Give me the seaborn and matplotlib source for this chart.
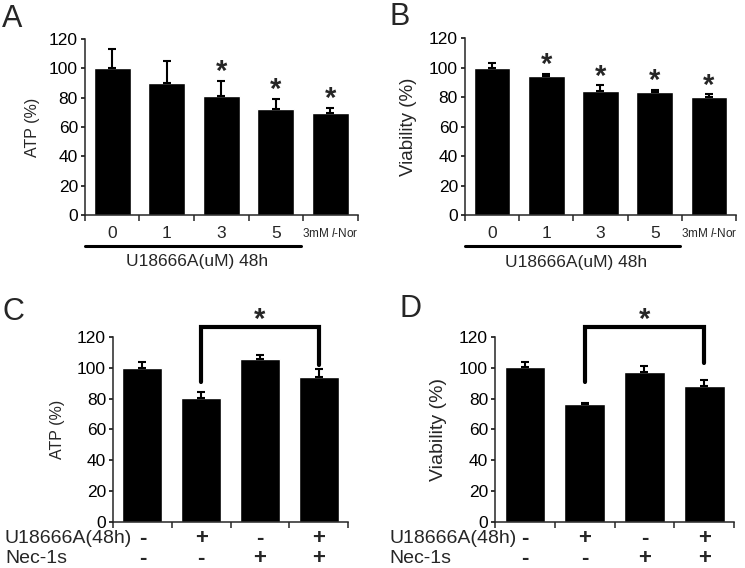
import numpy as np
import pandas as pd
import matplotlib
matplotlib.use("Agg")
import matplotlib.pyplot as plt
import seaborn as sns

# Panel A / B: U18666A dose series
ab_groups = ['0', '1', '3', '5', '3mM $\\mathit{l}$-Nor']
a_atp = [100, 90, 81, 72.5, 69.5]
a_err = [13, 15, 10.5, 6.5, 3.5]
a_sig = [False, False, True, True, True]
b_via = [100, 94.5, 84.5, 83.5, 80]
b_err = [3, 1.5, 3.5, 1.5, 2]
b_sig = [False, True, True, True, True]

# Panel C / D: U18666A +/- Nec-1s
cd_groups = ['ctrl', 'U18666A', 'Nec-1s', 'U18666A+Nec-1s']
cd_u186 = ['-', '+', '-', '+']
cd_nec = ['-', '-', '+', '+']
c_atp = [100, 80.5, 106, 94]
c_err = [4, 3.5, 2.5, 5.5]
d_via = [100.5, 76.5, 97.5, 88.5]
d_err = [3, 1, 3.5, 3.5]

sns.set_style("ticks")
plt.rcParams['font.family'] = ['Liberation Sans', 'DejaVu Sans']
plt.rcParams['mathtext.fontset'] = 'custom'
plt.rcParams['mathtext.rm'] = 'Liberation Sans'
plt.rcParams['mathtext.it'] = 'Liberation Sans:italic'

fig = plt.figure(figsize=(7.45, 5.68), dpi=100)


def bar_panel(rect, groups, vals, errs, ylabel, ylab_x, ylab_size):
    ax = fig.add_axes(rect)
    df = pd.DataFrame({'g': groups, 'v': vals})
    sns.barplot(data=df, x='g', y='v', color='black', saturation=1,
                width=0.68, errorbar=None, ax=ax)
    n = len(groups)
    ax.errorbar(range(n), vals, yerr=[np.zeros(n), errs], fmt='none',
                ecolor='black', elinewidth=1.5, capsize=3, capthick=1.5)
    ax.set_ylim(0, 120)
    ax.set_xlim(-0.5, n - 0.5)
    ax.set_yticks(range(0, 121, 20))
    ax.set_xticks(np.arange(-0.5, n, 1), minor=True)
    ax.tick_params(axis='y', labelsize=12.5, length=3, width=1.1, pad=2, colors='black')
    ax.tick_params(axis='x', which='major', length=0, labelsize=12.5, pad=13)
    ax.tick_params(axis='x', which='minor', length=4, width=1.1)
    ax.set_xlabel('')
    ax.set_ylabel(ylabel, fontsize=ylab_size)
    ax.yaxis.set_label_coords(ylab_x, 0.5)
    for s in ['left', 'bottom']:
        ax.spines[s].set_linewidth(1.1)
    sns.despine(ax=ax)
    return ax


def stars(ax, vals, errs, sig):
    for i, (v, e, s) in enumerate(zip(vals, errs, sig)):
        if s:
            ax.text(i, v + e + 6, '*', ha='center', va='center',
                    fontsize=21, fontweight='bold')


def dose_labels(ax):
    for t in ax.get_xticklabels():
        t.set_va('center')
    ax.get_xticklabels()[-1].set_fontsize(8.5)
    ax.plot([-0.5, 3.47], [-21, -21], color='black', lw=2.2, clip_on=False)
    ax.text(1.55, -32, 'U18666A(uM) 48h', ha='center', va='center', fontsize=12.5)


def bracket(ax, legs):
    ax.plot([1, 1, 3, 3], [legs[0], 126.5, 126.5, legs[1]], color='black',
            lw=3, clip_on=False, solid_joinstyle='miter')
    ax.text(2, 131, '*', ha='center', va='center', fontsize=21, fontweight='bold')


def treat_rows(ax, lab_x):
    ax.set_xticklabels([])
    tr = ax.get_xaxis_transform()
    rows = [(-0.088, 'U18666A(48h)', cd_u186), (-0.2, 'Nec-1s', cd_nec)]
    for y, name, signs in rows:
        ax.text(lab_x, y, name, transform=ax.transAxes,
                ha='left', va='center', fontsize=14)
        for i, s in enumerate(signs):
            ax.text(i, y, s, transform=tr, ha='center', va='center',
                    fontsize=16, fontweight='bold')


# A
axA = bar_panel([0.114, 0.6215, 0.366, 0.310], ab_groups, a_atp, a_err,
                'ATP (%)', -0.165, 11.5)
stars(axA, a_atp, a_err, a_sig)
dose_labels(axA)

# B
axB = bar_panel([0.624, 0.6215, 0.364, 0.311], ab_groups, b_via, b_err,
                'Viability (%)', -0.177, 13.5)
stars(axB, b_via, b_err, b_sig)
dose_labels(axB)

# C
axC = bar_panel([0.1517, 0.081, 0.3154, 0.3257], cd_groups, c_atp, c_err,
                'ATP (%)', -0.204, 11.5)
bracket(axC, [91, 102])
treat_rows(axC, -0.46)

# D
axD = bar_panel([0.6644, 0.081, 0.321, 0.3257], cd_groups, d_via, d_err,
                'Viability (%)', -0.20, 14)
bracket(axD, [91, 103])
treat_rows(axD, -0.44)

# panel letters
fig.text(0.003, 0.9525, 'A', fontsize=22, va='baseline')
fig.text(390 / 745, 0.956, 'B', fontsize=22, va='baseline')
fig.text(0.004, 0.437, 'C', fontsize=22, va='baseline')
fig.text(399 / 745, 0.442, 'D', fontsize=22, va='baseline')

fig.savefig('out.png', dpi=100)
